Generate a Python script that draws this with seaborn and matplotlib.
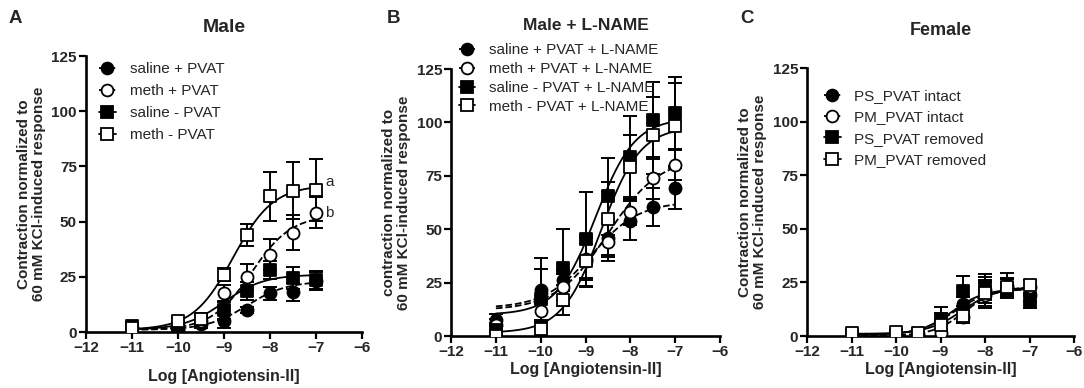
import numpy as np
import pandas as pd
import matplotlib
matplotlib.use("Agg")
import matplotlib.pyplot as plt
from matplotlib.lines import Line2D
import seaborn as sns

# concentrations (log M)
log_conc = [-11, -10, -9.5, -9, -8.5, -8, -7.5, -7]

# ---- panel A: Male ----
a_names = ["saline + PVAT", "meth + PVAT", "saline - PVAT", "meth - PVAT"]
a_mean = [
    [2, 1, 3.5, 5, 10, 17.5, 18, 23],
    [2, 2, 5, 17.5, 25, 35, 45, 54],
    [2.5, 2, 6, 10, 18.5, 28, 24.5, 23.5],
    [2, 5, 6, 26, 44, 61.5, 64, 64.5],
]
a_err = [
    [1, 1, 1.5, 3, 1.5, 3, 4, 4],
    [1, 1, 2, 4, 6, 7, 8, 7],
    [1, 1, 2, 4, 4, 4, 5, 4],
    [1, 1.5, 2, 3, 5, 11, 13, 14],
]
# fitted curve parameters: bottom, top, logEC50, hill
a_fit = [
    [1, 23, -8.5, 1.0],
    [1, 53, -8.4, 1.0],
    [1, 26, -9.0, 1.0],
    [1, 66.5, -8.8, 1.0],
]

# ---- panel B: Male + L-NAME ----
b_names = ["saline + PVAT + L-NAME", "meth + PVAT + L-NAME",
           "saline - PVAT + L-NAME", "meth - PVAT + L-NAME"]
b_mean = [
    [7.5, 21.5, 26, 35, 46, 54, 60.5, 69.5],
    [5, 11.5, 23, 36, 44, 58, 74, 80],
    [3, 17.5, 32, 45.5, 65.5, 84, 101, 104.5],
    [0, 3.5, 17, 35, 55, 79, 94, 98.5],
]
b_err = [
    [3, 15, 5, 8, 9, 9, 9, 10],
    [3, 4, 6, 10, 9, 6, 10, 7],
    [3, 14, 18, 22, 18, 19, 18, 17],
    [2, 3, 7, 12, 17, 15, 18, 20],
]
b_fit = [
    [13, 63, -8.87, 0.82],
    [12, 84, -8.5, 0.75],
    [10, 102, -8.77, 1.0],
    [1.5, 98, -8.65, 1.0],
]

# ---- panel C: Female ----
c_names = ["PS_PVAT intact", "PM_PVAT intact", "PS_PVAT removed", "PM_PVAT removed"]
c_mean = [
    [0.5, 0.5, 1, 6.5, 15, 21.5, 23.5, 19],
    [0, 0, 0, 1.5, 9, 19, 22.5, 23],
    [0, 0.5, 0.5, 7.5, 21, 23, 22.5, 16],
    [1.5, 2, 1.5, 5, 9.5, 20, 23, 24],
]
c_err = [
    [1, 1, 1, 7, 3, 6, 6, 3],
    [1, 1, 1, 2, 3, 6, 4, 3],
    [1, 1, 1, 3, 7, 6, 4, 3],
    [1, 1, 1, 2, 3, 6, 4, 2],
]
c_fit = [
    [0.5, 22, -8.7, 1.1],
    [0, 23, -8.45, 1.2],
    [0.5, 22, -8.75, 1.2],
    [1, 23, -8.5, 1.1],
]

markers = ["o", "o", "s", "s"]
filled = [True, False, True, False]
styles = ["--", "--", "-", "-"]

sns.set_style("ticks")
plt.rcParams["font.family"] = ["Liberation Sans", "DejaVu Sans"]

fig = plt.figure(figsize=(10.84, 3.88), dpi=100)
axA = fig.add_axes([0.0793, 0.1443, 0.2546, 0.7113])
axB = fig.add_axes([0.4161, 0.134, 0.2482, 0.688])
axC = fig.add_axes([0.7445, 0.134, 0.2463, 0.6907])


def four_pl(x, p):
    bottom, top, ec50, hill = p
    return bottom + (top - bottom) / (1 + 10 ** ((ec50 - x) * hill))


def draw_panel(ax, names, means, errs, fits, title, title_size, ylabel,
               title_pad, xlab_pad, leg_loc, leg_space):
    xs = np.linspace(-11, -7, 200)
    for i in range(4):
        curve = pd.DataFrame({"x": xs, "y": four_pl(xs, fits[i])})
        sns.lineplot(data=curve, x="x", y="y", ax=ax, color="black",
                     linestyle=styles[i], linewidth=1.3, zorder=2)
    for i in range(4):
        ax.errorbar(log_conc, means[i], yerr=errs[i], fmt="none",
                    ecolor="black", elinewidth=1.4, capsize=5,
                    capthick=1.4, zorder=3)
        pts = pd.DataFrame({"x": log_conc, "y": means[i]})
        sns.scatterplot(data=pts, x="x", y="y", ax=ax, marker=markers[i],
                        s=75, color="black" if filled[i] else "white",
                        edgecolor="black", linewidth=1.3, zorder=4 + i)
    ax.set_xlim(-12, -6)
    ax.set_ylim(0, 125)
    ax.set_xticks([-12, -11, -10, -9, -8, -7, -6])
    ax.set_yticks([0, 25, 50, 75, 100, 125])
    ax.set_xlabel("Log [Angiotensin-II]", fontsize=11.5, fontweight="bold",
                  labelpad=xlab_pad)
    ax.set_ylabel(ylabel, fontsize=11, fontweight="bold", labelpad=4,
                  linespacing=1.1)
    ax.set_title(title, fontsize=title_size, fontweight="bold", pad=title_pad)
    for lab in ax.get_xticklabels() + ax.get_yticklabels():
        lab.set_fontweight("bold")
    ax.tick_params(labelsize=11, width=1.6, length=5, color="black",
                   pad=1.5)
    sns.despine(ax=ax)
    for s in ["left", "bottom"]:
        ax.spines[s].set_linewidth(1.9)
        ax.spines[s].set_color("black")
    handles = [
        Line2D([0], [0], color="black", linestyle=styles[i], linewidth=1.3,
               marker=markers[i], markersize=8.5,
               markerfacecolor="black" if filled[i] else "white",
               markeredgecolor="black", markeredgewidth=1.3)
        for i in range(4)
    ]
    ax.legend(handles, names, loc="upper left", bbox_to_anchor=leg_loc,
              frameon=False, fontsize=11, handlelength=1.1,
              handletextpad=0.9, labelspacing=leg_space, borderaxespad=0)


draw_panel(axA, a_names, a_mean, a_err, a_fit, "Male", 14,
           "Contraction normalized to\n60 mM KCl-induced response",
           17, 10, (0.025, 1.0), 0.53)
draw_panel(axB, b_names, b_mean, b_err, b_fit, "Male + L-NAME", 12.5,
           "contraction normalized to\n60 mM KCl-induced response",
           28, 2, (0.005, 1.12), 0.32)
draw_panel(axC, c_names, c_mean, c_err, c_fit, "Female", 13,
           "Contraction normalized to\n60 mM KCl-induced response",
           24, 2, (0.04, 0.945), 0.48)

# significance letters on panel A
axA.text(-6.8, 68, "a", fontsize=11, va="center")
axA.text(-6.8, 54, "b", fontsize=11, va="center")

# panel letters
for lab, x in [("A", 0.008), ("B", 0.357), ("C", 0.683)]:
    fig.text(x, 0.975, lab, fontsize=13.5, fontweight="bold", va="top")

fig.savefig("out.png", dpi=100)
